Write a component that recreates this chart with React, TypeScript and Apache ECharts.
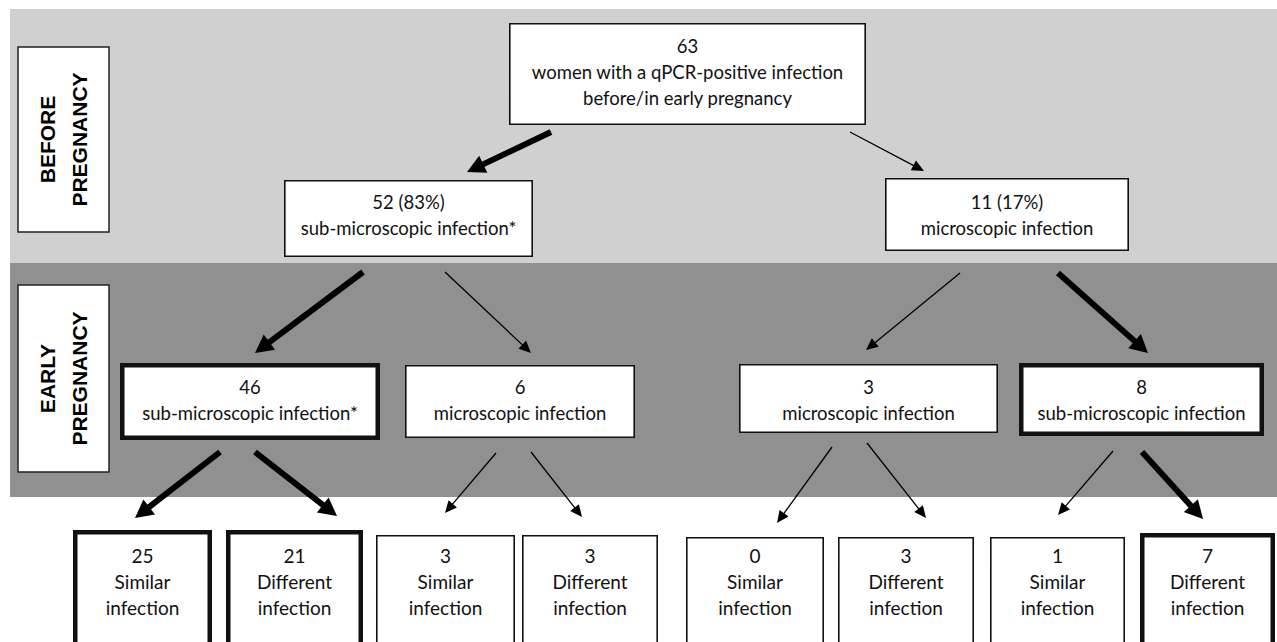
import React, { useEffect, useRef } from "react";
import * as echarts from "echarts";

// ---------- data ----------
const rootCount = 63;
const rootLabel = ["women with a qPCR-positive infection", "before/in early pregnancy"];
const stageOneCounts = [52, 11];
const stageOneShares = [83, 17];
const stageOneLabels = ["sub-microscopic infection*", "microscopic infection"];
const stageTwoCounts = [46, 6, 3, 8];
const stageTwoLabels = [
  "sub-microscopic infection*",
  "microscopic infection",
  "microscopic infection",
  "sub-microscopic infection",
];
const stageTwoMajor = [true, false, false, true];
const outcomeCounts = [25, 21, 3, 3, 0, 3, 1, 7];
const outcomeLabels = ["Similar", "Different", "Similar", "Different", "Similar", "Different", "Similar", "Different"];
const outcomeMajor = [true, true, false, false, false, false, false, true];
const outcomeSuffix = "infection";
const phaseLabels = ["BEFORE\nPREGNANCY", "EARLY\nPREGNANCY"];

// ---------- layout (pixel-space of a 1277 x 642 canvas) ----------
const bandRects = [
  [10, 9, 1277, 263, 0],
  [10, 263, 1277, 497, 1],
];
const bandColors = ["#d0d0d0", "#909090"];
const phaseRects = [
  [18, 47, 109, 232],
  [18, 285, 109, 472],
];
const rootBox = [509, 23, 866, 125];
const rootTextY = 72;
const stageOneBoxes = [
  [284, 180, 533, 257],
  [885, 178, 1129, 251],
];
const stageOneTextY = [214.5, 214.5];
const stageTwoBoxes = [
  [120, 363, 380, 440],
  [405, 365, 635, 438],
  [739, 364, 998, 433],
  [1019, 363, 1264, 436],
];
const stageTwoTextY = [399.5, 399.5, 399.5, 399.5];
const outcomeBoxes = [
  [73, 530, 212, 680],
  [226, 530, 363, 680],
  [376, 535, 515, 680],
  [522, 535, 658, 680],
  [686, 537, 824, 680],
  [838, 537, 974, 680],
  [990, 537, 1125, 680],
  [1140, 533, 1275, 680],
];
const outcomeTextY = 581;
// arrows: [x1, y1, x2, y2, thick]
const arrows = [
  [551, 132, 467, 172, 1],
  [850, 132, 924, 171, 0],
  [363, 272, 255, 353, 1],
  [445, 272, 531, 353, 0],
  [960, 273, 866, 350, 0],
  [1058, 273, 1148, 353, 1],
  [220, 452, 135, 518, 1],
  [255, 452, 337, 516, 1],
  [496, 453, 445, 513, 0],
  [531, 452, 582, 517, 0],
  [832, 447, 777, 523, 0],
  [867, 443, 926, 518, 0],
  [1113, 451, 1058, 515, 0],
  [1142, 452, 1203, 519, 1],
];

type FlowNode = { box: number[]; lines: string[]; bold: boolean; textY: number; size: number };

const nodes: FlowNode[] = [
  { box: rootBox, lines: [String(rootCount), ...rootLabel], bold: false, textY: rootTextY, size: 18.5 },
  ...stageOneCounts.map((c, i) => ({
    box: stageOneBoxes[i],
    lines: [`${c} (${stageOneShares[i]}%)`, stageOneLabels[i]],
    bold: false,
    textY: stageOneTextY[i],
    size: 18.5,
  })),
  ...stageTwoCounts.map((c, i) => ({
    box: stageTwoBoxes[i],
    lines: [String(c), stageTwoLabels[i]],
    bold: stageTwoMajor[i],
    textY: stageTwoTextY[i],
    size: 18.5,
  })),
  ...outcomeCounts.map((c, i) => ({
    box: outcomeBoxes[i],
    lines: [String(c), outcomeLabels[i], outcomeSuffix],
    bold: outcomeMajor[i],
    textY: outcomeTextY,
    size: 19,
  })),
];

const FONT = "Lato, 'Open Sans', sans-serif";

export default function App() {
  const ref = useRef<HTMLDivElement>(null);
  useEffect(() => {
    if (!ref.current) return;
    const chart = echarts.init(ref.current, undefined, { renderer: "svg" });

    const option: any = {
      animation: false,
      backgroundColor: "#ffffff",
      grid: { left: 0, right: 0, top: 0, bottom: 0 },
      xAxis: { type: "value", min: 0, max: 1277, show: false },
      yAxis: { type: "value", min: 0, max: 642, inverse: true, show: false },
      series: [
        {
          type: "custom",
          name: "bands",
          z: 1,
          clip: false,
          data: bandRects,
          renderItem: (params: any, api: any) => {
            const p0 = api.coord([api.value(0), api.value(1)]);
            const p1 = api.coord([api.value(2), api.value(3)]);
            return {
              type: "rect",
              shape: { x: p0[0], y: p0[1], width: p1[0] - p0[0], height: p1[1] - p0[1] },
              style: { fill: bandColors[api.value(4)] },
            };
          },
        },
        {
          type: "custom",
          name: "phases",
          z: 2,
          clip: false,
          data: phaseRects,
          renderItem: (params: any, api: any) => {
            const p0 = api.coord([api.value(0), api.value(1)]);
            const p1 = api.coord([api.value(2), api.value(3)]);
            const cx = (p0[0] + p1[0]) / 2;
            const cy = (p0[1] + p1[1]) / 2;
            return {
              type: "group",
              children: [
                {
                  type: "rect",
                  shape: { x: p0[0], y: p0[1], width: p1[0] - p0[0], height: p1[1] - p0[1] },
                  style: { fill: "#ffffff", stroke: "#222", lineWidth: 1.5 },
                },
                {
                  type: "text",
                  x: cx,
                  y: cy,
                  rotation: Math.PI / 2,
                  style: {
                    text: phaseLabels[params.dataIndex],
                    fill: "#000",
                    fontFamily: "'Liberation Sans', Arial, sans-serif",
                    fontWeight: "bold",
                    fontSize: 21,
                    lineHeight: 32,
                    align: "center",
                    verticalAlign: "middle",
                  },
                },
              ],
            };
          },
        },
        {
          type: "custom",
          name: "arrows",
          z: 3,
          clip: false,
          data: arrows,
          renderItem: (params: any, api: any) => {
            const a = api.coord([api.value(0), api.value(1)]);
            const b = api.coord([api.value(2), api.value(3)]);
            const thick = api.value(4) === 1;
            const w = thick ? 6 : 1.3;
            const L = thick ? 18 : 12;
            const H = thick ? 9.5 : 5.5;
            const dx = b[0] - a[0];
            const dy = b[1] - a[1];
            const len = Math.hypot(dx, dy);
            const ux = dx / len;
            const uy = dy / len;
            const bx = b[0] - ux * L;
            const by = b[1] - uy * L;
            const nx = -uy;
            const ny = ux;
            return {
              type: "group",
              children: [
                {
                  type: "line",
                  shape: { x1: a[0], y1: a[1], x2: bx + ux * 2, y2: by + uy * 2 },
                  style: { stroke: "#000", lineWidth: w },
                },
                {
                  type: "polygon",
                  shape: {
                    points: [
                      [b[0], b[1]],
                      [bx + nx * H, by + ny * H],
                      [bx - nx * H, by - ny * H],
                    ],
                  },
                  style: { fill: "#000" },
                },
              ],
            };
          },
        },
        {
          type: "custom",
          name: "boxes",
          z: 4,
          clip: false,
          data: nodes.map((n, i) => [n.box[0], n.box[1], n.box[2], n.box[3], i]),
          renderItem: (params: any, api: any) => {
            const n = nodes[api.value(4)];
            const p0 = api.coord([api.value(0), api.value(1)]);
            const p1 = api.coord([api.value(2), api.value(3)]);
            const lw = n.bold ? 4.5 : 1.6;
            const t = api.coord([(api.value(0) + api.value(2)) / 2, n.textY]);
            return {
              type: "group",
              children: [
                {
                  type: "rect",
                  shape: {
                    x: p0[0] + lw / 2,
                    y: p0[1] + lw / 2,
                    width: p1[0] - p0[0] - lw,
                    height: p1[1] - p0[1] - lw,
                  },
                  style: { fill: "#ffffff", stroke: "#111", lineWidth: lw },
                },
                {
                  type: "text",
                  x: t[0],
                  y: t[1],
                  style: {
                    text: n.lines.join("\n"),
                    fill: "#111",
                    fontFamily: FONT,
                    fontSize: n.size,
                    lineHeight: 26,
                    align: "center",
                    verticalAlign: "middle",
                  },
                },
              ],
            };
          },
        },
      ],
    };
    chart.setOption(option);
    return () => chart.dispose();
  }, []);

  return (
    <div
      ref={ref}
      style={{ position: "fixed", left: 0, top: 0, width: 1277, height: 642, background: "#fff" }}
    />
  );
}
